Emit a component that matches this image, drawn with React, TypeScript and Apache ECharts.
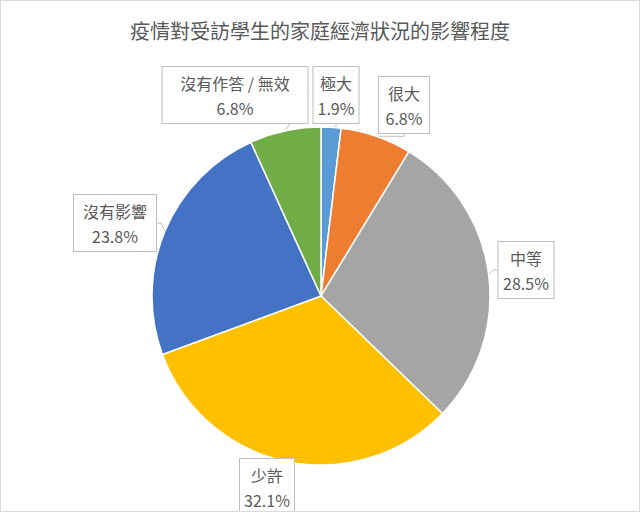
import React, { useEffect, useRef } from "react";
import * as echarts from "echarts";

const titleText = "疫情對受訪學生的家庭經濟狀況的影響程度";
const categories = ["極大", "很大", "中等", "少許", "沒有影響", "沒有作答 / 無效"];
const values = [1.9, 6.8, 28.5, 32.1, 23.8, 6.8];
const colors = ["#5B9BD5", "#ED7D31", "#A5A5A5", "#FFC000", "#4472C4", "#70AD47"];

// label box centres and widths (layout only)
const labelPos: [number, number][] = [
  [335, 94],
  [403, 104],
  [525, 269],
  [266, 486],
  [114, 222],
  [234, 94],
];
const labelBoxW: number[] = [45, 50, 55, 54, 82, 145];

export default function App() {
  const ref = useRef<HTMLDivElement>(null);
  useEffect(() => {
    if (!ref.current) return;
    const chart = echarts.init(ref.current, null, { renderer: "svg" });
    chart.setOption({
      animation: false,
      backgroundColor: "#ffffff",
      title: {
        text: titleText,
        left: "center",
        top: 14,
        textStyle: {
          fontFamily: "Noto Sans CJK TC",
          fontWeight: "normal",
          fontSize: 20,
          color: "#595959",
        },
      },
      series: [
        {
          type: "pie",
          center: [320, 295],
          radius: 169,
          startAngle: 90,
          clockwise: true,
          itemStyle: { borderColor: "#ffffff", borderWidth: 1.5 },
          label: {
            show: true,
            position: "outside",
            formatter: (p: any) => `${p.name}\n${p.value.toFixed(1)}%`,
            fontFamily: "Noto Sans CJK TC",
            fontSize: 16,
            lineHeight: 25,
            color: "#595959",
            align: "center",
            overflow: "none",
            backgroundColor: "#ffffff",
            borderColor: "#bfbfbf",
            borderWidth: 1,
            padding: [3, 4, 3, 4],
          },
          labelLine: {
            show: true,
            length: 8,
            length2: 4,
            lineStyle: { color: "#bfbfbf", width: 1 },
          },
          labelLayout: (params: any) => {
            const [x, y] = labelPos[params.dataIndex];
            return { x, y, align: "center", verticalAlign: "middle" };
          },
          data: categories.map((c, i) => ({
            name: c,
            value: values[i],
            itemStyle: { color: colors[i] },
            label: { width: labelBoxW[i] - 8, overflow: "none" },
          })),
        },
      ],
    });
    return () => chart.dispose();
  }, []);
  return (
    <div
      style={{
        position: "absolute",
        left: 0,
        top: 0,
        width: 640,
        height: 512,
        boxSizing: "border-box",
        border: "1px solid #d9d9d9",
      }}
    >
      <div ref={ref} style={{ width: 638, height: 510 }} />
    </div>
  );
}
